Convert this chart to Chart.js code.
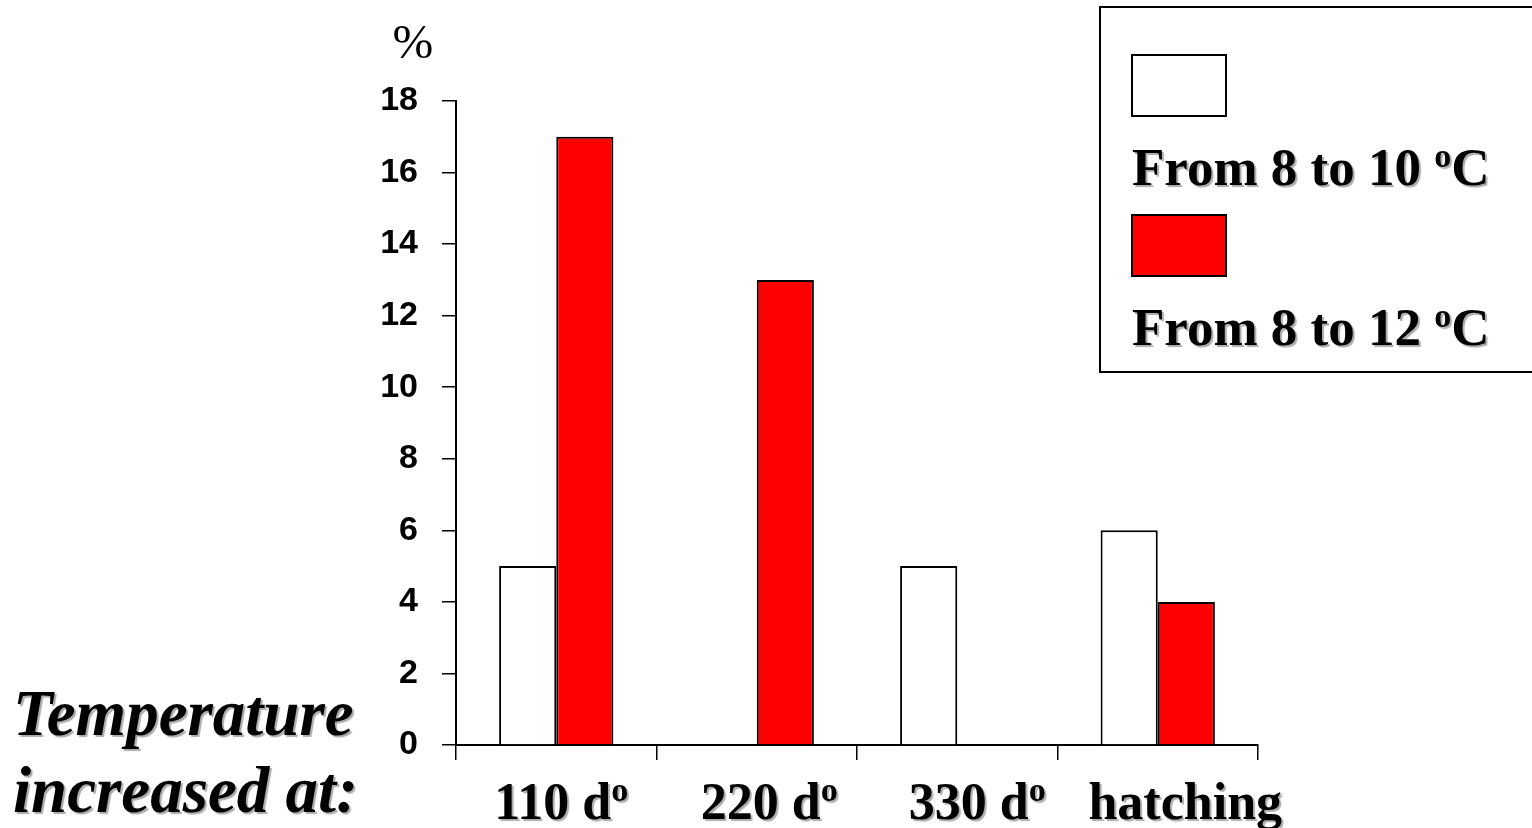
<!DOCTYPE html>
<html>
<head>
<meta charset="utf-8">
<script src="https://cdn.jsdelivr.net/npm/chart.js@4/dist/chart.umd.min.js"></script>
<style>
  html, body { margin: 0; padding: 0; background: #fff; }
  #wrap { width: 1532px; height: 828px; }
</style>
</head>
<body>
<div id="wrap"><canvas id="chart" width="1532" height="828"></canvas></div>
<script>
// 데이터
const categories = ['110 d°', '220 d°', '330 d°', 'hatching'];
const seriesNames = ['From 8 to 10 °C', 'From 8 to 12 °C'];
const to10Values = [5, 0, 5, 6];
const to12Values = [17, 13, 0, 4];
const yTicks = [0, 2, 4, 6, 8, 10, 12, 14, 16, 18];

const SERIF = '"Liberation Serif", "Times New Roman", serif';
const SANS = '"Liberation Sans", Arial, sans-serif';

// '°' 는 작은 위첨자 o 로 그림
function drawRich(ctx, text, x, y, size, style, align) {
  const parts = text.split('°');
  const main = `${style} ${size}px ${SERIF}`;
  const sup = `${style} ${Math.round(size * 0.65)}px ${SERIF}`;
  let w = 0;
  parts.forEach((p, i) => {
    ctx.font = main; w += ctx.measureText(p).width;
    if (i < parts.length - 1) { ctx.font = sup; w += ctx.measureText('o').width; }
  });
  let cx = align === 'center' ? x - w / 2 : x;
  ctx.textAlign = 'left';
  ctx.textBaseline = 'alphabetic';
  parts.forEach((p, i) => {
    ctx.font = main; ctx.fillText(p, cx, y); cx += ctx.measureText(p).width;
    if (i < parts.length - 1) {
      ctx.font = sup; ctx.fillText('o', cx, y - size * 0.34); cx += ctx.measureText('o').width;
    }
  });
}

function shadowOn(ctx) {
  ctx.shadowColor = 'rgba(0,0,0,0.33)';
  ctx.shadowOffsetX = 2;
  ctx.shadowOffsetY = 2;
  ctx.shadowBlur = 1;
}

const decorPlugin = {
  id: 'decor',
  afterDraw(chart) {
    const ctx = chart.ctx;
    const xs = chart.scales.x;
    ctx.save();
    ctx.fillStyle = '#000';

    // % 라벨
    ctx.font = `49px ${SERIF}`;
    ctx.textAlign = 'center';
    ctx.textBaseline = 'alphabetic';
    ctx.fillText('%', 413, 58);

    shadowOn(ctx);
    // x축 라벨 (원본은 오른쪽으로 조금씩 밀려 있음)
    categories.forEach((c, i) => {
      drawRich(ctx, c, xs.getPixelForValue(i) + 5 + i * 7.5, 819, 52, 'bold', 'center');
    });

    // 왼쪽 제목
    drawRich(ctx, 'Temperature', 13, 735, 65, 'italic bold', 'left');
    drawRich(ctx, 'increased at:', 13, 812, 65, 'italic bold', 'left');
    ctx.restore();

    // 범례
    ctx.save();
    ctx.lineWidth = 2;
    ctx.strokeStyle = '#000';
    ctx.strokeRect(1100, 7, 440, 365);
    chart.data.datasets.forEach((ds, i) => {
      const top = 55 + i * 160;
      ctx.fillStyle = ds.backgroundColor;
      ctx.fillRect(1132, top, 94, 61);
      ctx.strokeRect(1132, top, 94, 61);
      ctx.fillStyle = '#000';
      ctx.save();
      shadowOn(ctx);
      drawRich(ctx, ds.label, 1132, top + 130, 53, 'bold', 'left');
      ctx.restore();
    });
    ctx.restore();
  }
};

new Chart(document.getElementById('chart'), {
  type: 'bar',
  plugins: [decorPlugin],
  data: {
    labels: categories,
    datasets: [
      { label: seriesNames[0], data: to10Values, backgroundColor: '#ffffff', borderColor: '#000', borderWidth: 2 },
      { label: seriesNames[1], data: to12Values, backgroundColor: '#ff0000', borderColor: '#000', borderWidth: 2 }
    ]
  },
  options: {
    responsive: false,
    animation: false,
    events: [],
    categoryPercentage: 0.57,
    barPercentage: 1.0,
    layout: { padding: { top: 101, right: 274, bottom: 0, left: 0 } },
    plugins: { legend: { display: false }, tooltip: { enabled: false } },
    scales: {
      x: {
        offset: true,
        grid: { display: true, drawOnChartArea: false, tickLength: 15, color: '#000', lineWidth: 1.5, offset: true },
        border: { color: '#000', width: 2 },
        ticks: { display: false },
        afterFit: s => { s.height = 83; }
      },
      y: {
        min: 0, max: 18,
        afterBuildTicks: s => { s.ticks = yTicks.map(v => ({ value: v })); },
        grid: { display: true, drawOnChartArea: false, tickLength: 14, color: '#000', lineWidth: 1.5 },
        border: { color: '#000', width: 2 },
        ticks: { padding: 24, color: '#000', font: { family: SANS, size: 34, weight: 'bold' } },
        afterFit: s => { s.width = 456; }
      }
    }
  }
});
</script>
</body>
</html>
